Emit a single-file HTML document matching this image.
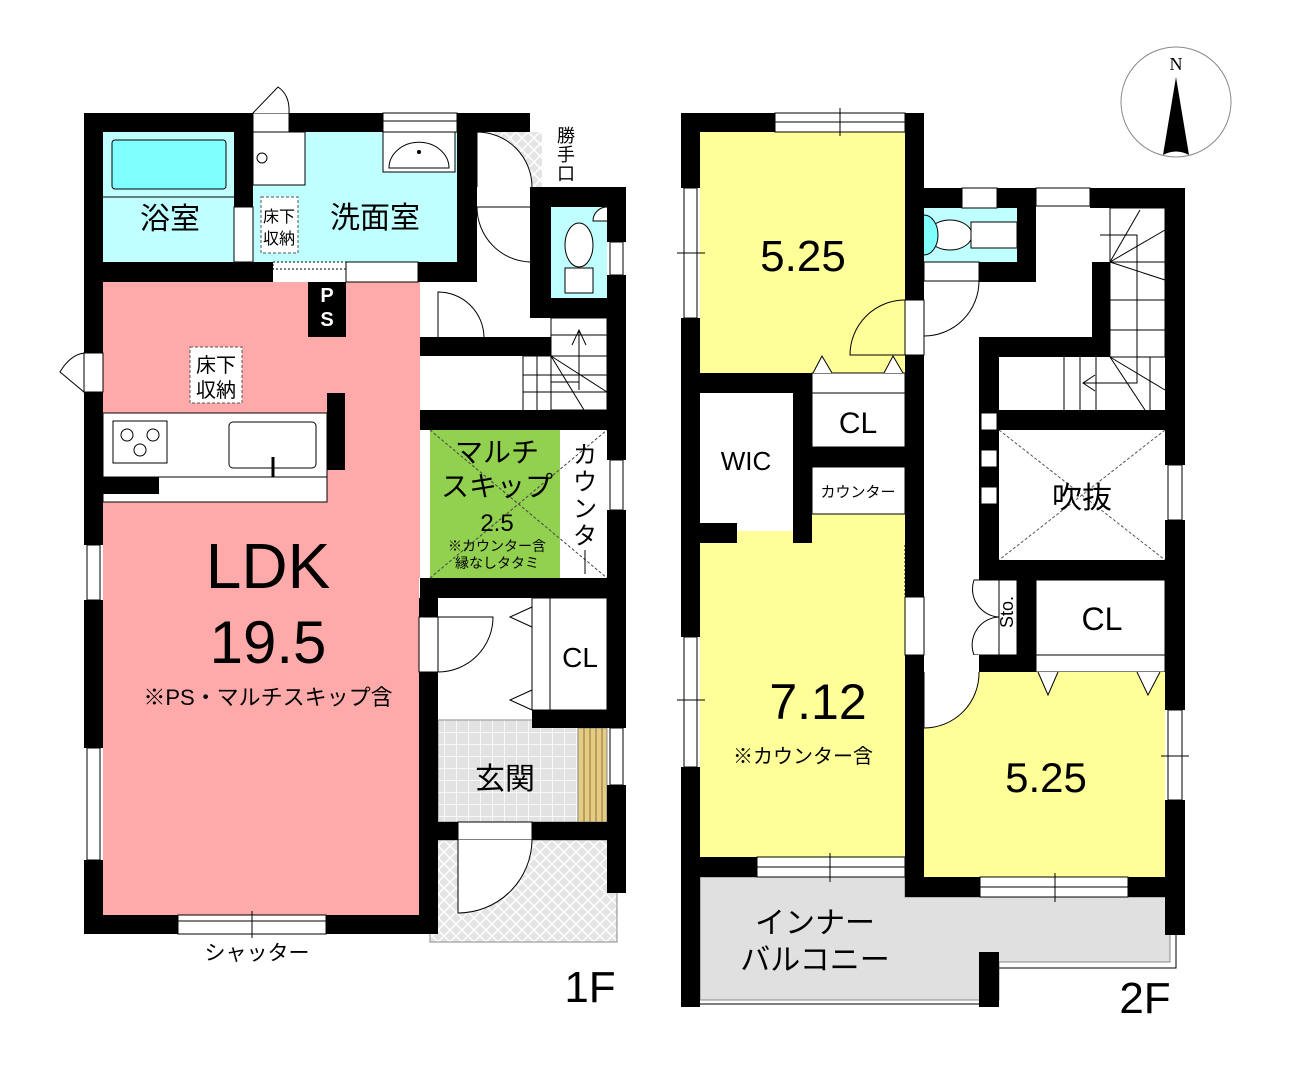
<!DOCTYPE html>
<html><head><meta charset="utf-8"><style>
html,body{margin:0;padding:0;background:#fff}
svg{display:block}
text{font-family:"Liberation Sans","Noto Sans CJK JP",sans-serif;fill:#000}
</style></head><body>
<svg width="1291" height="1065" viewBox="0 0 1291 1065" xmlns="http://www.w3.org/2000/svg">
<defs>
<pattern id="hatch" width="12" height="12" patternUnits="userSpaceOnUse">
<rect width="12" height="12" fill="#e4e4e4"/>
<path d="M0 0L12 12M12 0L0 12" stroke="#fff" stroke-width="1.5"/>
</pattern>
<pattern id="tile" width="12" height="12" patternUnits="userSpaceOnUse">
<rect width="12" height="12" fill="#e2e2e2"/>
<path d="M0 0H12M0 0V12" stroke="#fff" stroke-width="1.5"/>
</pattern>
</defs>

<!-- ===== 1F ===== -->
<rect x="103" y="132" width="131" height="130" fill="#c0ffff"/>
<rect x="112" y="140" width="114" height="49" rx="3" fill="#80ffff" stroke="#000"/>
<line x1="103" y1="197" x2="234" y2="197" stroke="#000"/>
<rect x="253" y="132" width="204" height="130" fill="#c0ffff"/>
<rect x="253" y="132" width="52" height="53" fill="#fff" stroke="#000"/>
<circle cx="262" cy="158" r="5" fill="#fff" stroke="#000"/>
<rect x="383" y="132" width="72" height="40" fill="#fff" stroke="#000"/>
<path d="M389 168 a28 24 0 0 1 60 0 z" fill="#fff" stroke="#000"/>
<circle cx="419" cy="152" r="2"/>
<rect x="261" y="197" width="37" height="56" fill="#fff" stroke="#555" stroke-dasharray="3,2"/>
<rect x="234" y="207" width="19" height="55" fill="#fff" stroke="#000"/>
<rect x="103" y="282" width="317" height="296" fill="#ffaaaa"/>
<rect x="103" y="578" width="316" height="337" fill="#ffaaaa"/>
<rect x="190" y="347" width="52" height="56" fill="#fff" stroke="#555" stroke-dasharray="3,2"/>
<rect x="103" y="413" width="224" height="64" fill="#fff" stroke="#000"/>
<rect x="113" y="421" width="54" height="42" fill="#fff" stroke="#000"/>
<circle cx="127" cy="435" r="6" fill="#fff" stroke="#000"/><circle cx="153" cy="435" r="6" fill="#fff" stroke="#000"/><circle cx="140" cy="450" r="6" fill="#fff" stroke="#000"/>
<rect x="229" y="422" width="87" height="46" rx="4" fill="#fff" stroke="#000"/>
<line x1="273" y1="457" x2="273" y2="477" stroke="#000" stroke-width="3"/>
<rect x="103" y="477" width="224" height="25" fill="#fff" stroke="#000"/>
<rect x="103" y="477" width="56" height="17" fill="#000"/>
<rect x="327" y="393" width="18" height="77" fill="#000"/>
<rect x="420" y="282" width="111" height="55" fill="#fff"/>
<path d="M438 337 V292 A46 46 0 0 1 484 337" fill="none" stroke="#000"/>
<rect x="477" y="132" width="53" height="150" fill="#fff"/>
<rect x="477" y="132" width="65" height="55" fill="url(#hatch)"/>
<path d="M477 187 V132 A55 55 0 0 1 532 187" fill="#fff" stroke="#000"/>
<path d="M477 207 A55 55 0 0 0 530 262" fill="none" stroke="#000"/>
<line x1="477" y1="207" x2="530" y2="207" stroke="#000"/>
<rect x="551" y="207" width="56" height="91" fill="#c0ffff"/>
<ellipse cx="579" cy="245" rx="14" ry="22" fill="#fff" stroke="#000"/>
<rect x="565" y="268" width="28" height="25" fill="#fff" stroke="#000"/>
<path d="M607 207 A14 14 0 0 0 593 221 H607" fill="#fff" stroke="#000"/>
<rect x="420" y="356" width="187" height="54" fill="#fff"/>
<rect x="551" y="318" width="56" height="92" fill="#fff" stroke="#000"/>
<g stroke="#000" fill="none">
<line x1="523" y1="356" x2="607" y2="356"/><line x1="523" y1="375" x2="607" y2="375"/><line x1="523" y1="392" x2="607" y2="392"/>
<line x1="523" y1="356" x2="523" y2="410"/><line x1="537" y1="356" x2="537" y2="410"/><line x1="551" y1="345" x2="551" y2="410"/>
<line x1="551" y1="335" x2="607" y2="335"/>
<line x1="551" y1="356" x2="584" y2="410"/><line x1="551" y1="356" x2="607" y2="392"/>
<line x1="579" y1="390" x2="579" y2="330"/><path d="M572 345 L579 330 L586 345"/>
<line x1="551" y1="382" x2="579" y2="382"/>
</g>
<rect x="430" y="430" width="130" height="148" fill="#92d050"/>
<rect x="560" y="430" width="47" height="148" fill="#fff"/>
<line x1="430" y1="578" x2="607" y2="430" stroke="#444" stroke-dasharray="3,2"/>
<line x1="430" y1="430" x2="607" y2="578" stroke="#444" stroke-dasharray="3,2"/>
<rect x="438" y="598" width="94" height="122" fill="#fff"/>
<rect x="550" y="598" width="57" height="112" fill="#fff" stroke="#000"/>
<rect x="532" y="598" width="18" height="112" fill="#fff" stroke="#000"/>
<path d="M532 607 L510 617 L532 627 M532 690 L510 700 L532 710" fill="none" stroke="#000"/>
<rect x="419" y="617" width="19" height="55" fill="#fff" stroke="#000"/>
<path d="M438 672 A55 55 0 0 0 493 617 H438" fill="none" stroke="#000"/>
<rect x="438" y="720" width="140" height="102" fill="url(#tile)" stroke="#888"/>
<rect x="578" y="728" width="29" height="94" fill="#e6cc80" stroke="#888"/>
<g stroke="#8a7040"><line x1="584" y1="728" x2="584" y2="822"/><line x1="590" y1="728" x2="590" y2="822"/><line x1="596" y1="728" x2="596" y2="822"/><line x1="602" y1="728" x2="602" y2="822"/></g>
<rect x="430" y="840" width="187" height="102" fill="url(#hatch)" stroke="#888"/>
<rect x="458" y="822" width="74" height="18" fill="#fff" stroke="#000"/>
<path d="M458 840 V913 A74 74 0 0 0 532 840" fill="#fff" stroke="#000"/>
<g fill="#000">
<rect x="84" y="113" width="169" height="19"/>
<rect x="289" y="113" width="94" height="19"/>
<rect x="457" y="113" width="73" height="19"/>
<rect x="84" y="113" width="19" height="240"/>
<rect x="84" y="392" width="19" height="153"/>
<rect x="84" y="600" width="19" height="148"/>
<rect x="84" y="860" width="19" height="74"/>
<rect x="234" y="113" width="19" height="94"/>
<rect x="84" y="262" width="189" height="20"/>
<rect x="418" y="262" width="59" height="20"/>
<rect x="308" y="282" width="38" height="55"/>
<rect x="457" y="113" width="20" height="169"/>
<rect x="530" y="187" width="96" height="20"/>
<rect x="530" y="187" width="21" height="131"/>
<rect x="530" y="298" width="96" height="20"/>
<rect x="607" y="187" width="19" height="55"/>
<rect x="607" y="275" width="19" height="185"/>
<rect x="607" y="510" width="19" height="218"/>
<rect x="607" y="785" width="19" height="108"/>
<rect x="420" y="337" width="131" height="19"/>
<rect x="420" y="410" width="206" height="20"/>
<rect x="420" y="578" width="206" height="20"/>
<rect x="419" y="598" width="19" height="19"/>
<rect x="419" y="672" width="19" height="262"/>
<rect x="532" y="710" width="94" height="18"/>
<rect x="532" y="822" width="94" height="18"/>
<rect x="438" y="822" width="20" height="18"/>
<rect x="84" y="915" width="94" height="19"/>
<rect x="326" y="915" width="112" height="19"/>
</g>
<g fill="#fff" stroke="#000">
<rect x="383" y="113" width="74" height="19"/>
<rect x="178" y="915" width="148" height="19"/>
<rect x="87" y="545" width="13" height="55"/>
<rect x="87" y="748" width="13" height="112"/>
<rect x="610" y="242" width="13" height="33"/>
<rect x="610" y="460" width="13" height="50"/>
<rect x="610" y="728" width="13" height="57"/>
<rect x="253" y="113" width="36" height="19"/>
<rect x="273" y="262" width="73" height="7" stroke-dasharray="2,2"/>
<rect x="346" y="262" width="72" height="20"/>
</g>
<line x1="383" y1="121" x2="457" y2="121" stroke="#000"/>
<line x1="178" y1="921" x2="326" y2="921" stroke="#000"/><line x1="252" y1="911" x2="252" y2="938" stroke="#000"/>
<path d="M253 113 L278 87 Q290 95 289 113" fill="#fff" stroke="#000"/>
<path d="M84 353 L84 392 L60 372 Q70 355 84 353" fill="#fff" stroke="#000"/>
<rect x="84" y="353" width="19" height="39" fill="#fff" stroke="#000"/>

<text x="170" y="229" font-size="30" text-anchor="middle">浴室</text>
<text x="375" y="228" font-size="30" text-anchor="middle">洗面室</text>
<text x="279" y="222" font-size="16" text-anchor="middle">床下</text>
<text x="279" y="244" font-size="16" text-anchor="middle">収納</text>
<text x="216" y="372" font-size="20" text-anchor="middle">床下</text>
<text x="216" y="397" font-size="20" text-anchor="middle">収納</text>
<text x="327" y="302" font-size="20" font-weight="bold" text-anchor="middle" style="fill:#fff">P</text>
<text x="327" y="326" font-size="20" font-weight="bold" text-anchor="middle" style="fill:#fff">S</text>
<text x="268" y="588" font-size="64" text-anchor="middle">LDK</text>
<text x="268" y="663" font-size="60" text-anchor="middle">19.5</text>
<text x="268" y="705" font-size="22" text-anchor="middle">※PS・マルチスキップ含</text>
<text x="497" y="462" font-size="28" text-anchor="middle">マルチ</text>
<text x="497" y="496" font-size="28" text-anchor="middle">スキップ</text>
<text x="497" y="531" font-size="24" text-anchor="middle">2.5</text>
<text x="497" y="551" font-size="14" text-anchor="middle">※カウンター含</text>
<text x="497" y="568" font-size="14" text-anchor="middle">縁なしタタミ</text>
<g font-size="24" text-anchor="middle">
<text x="585" y="463">カ</text><text x="585" y="490">ウ</text><text x="585" y="517">ン</text><text x="585" y="544">タ</text><text x="585" y="571">｜</text>
</g>
<text x="580" y="667" font-size="28" text-anchor="middle">CL</text>
<text x="505" y="789" font-size="30" text-anchor="middle">玄関</text>
<text x="257" y="960" font-size="21" text-anchor="middle">シャッター</text>
<text x="590" y="1002" font-size="44" text-anchor="middle">1F</text>
<g font-size="18" text-anchor="middle">
<text x="566" y="142">勝</text><text x="566" y="161">手</text><text x="566" y="180">口</text>
</g>

<!-- ===== 2F ===== -->
<rect x="700" y="132" width="205" height="241" fill="#ffff99"/>
<rect x="812" y="373" width="93" height="74" fill="#fff" stroke="#000"/>
<line x1="812" y1="393" x2="905" y2="393" stroke="#000"/>
<path d="M813 373 L822 356 L832 373 M884 373 L893 356 L903 373" fill="#fff" stroke="#000"/>
<rect x="700" y="514" width="205" height="343" fill="#ffff99"/>
<rect x="700" y="393" width="93" height="138" fill="#fff"/>
<rect x="812" y="467" width="93" height="47" fill="#fff" stroke="#000"/>
<rect x="905" y="300" width="19" height="55" fill="#fff" stroke="#000"/>
<path d="M905 300 A55 55 0 0 0 850 355 H905" fill="none" stroke="#000"/>
<rect x="924" y="208" width="93" height="54" fill="#c0ffff"/>
<ellipse cx="950" cy="235" rx="22" ry="15" fill="#fff" stroke="#000"/>
<rect x="971" y="222" width="46" height="26" fill="#fff" stroke="#000"/>
<path d="M924 215 A14 20 0 0 1 924 255" fill="#80ffff" stroke="#000"/>
<rect x="924" y="262" width="55" height="19" fill="#fff" stroke="#000"/>
<path d="M979 281 A55 55 0 0 1 924 336" fill="none" stroke="#000"/>
<rect x="1110" y="208" width="55" height="202" fill="#fff" stroke="#000"/>
<rect x="999" y="357" width="166" height="53" fill="#fff"/>
<g stroke="#000" fill="none">
<line x1="1110" y1="262" x2="1165" y2="262"/><line x1="1110" y1="300" x2="1165" y2="300"/><line x1="1110" y1="330" x2="1165" y2="330"/>
<line x1="1110" y1="357" x2="1165" y2="357"/>
<line x1="1064" y1="357" x2="1064" y2="410"/><line x1="1080" y1="357" x2="1080" y2="410"/><line x1="1096" y1="357" x2="1096" y2="410"/><line x1="1150" y1="357" x2="1150" y2="410"/>
<line x1="1110" y1="262" x2="1165" y2="230"/><line x1="1110" y1="262" x2="1165" y2="280"/><line x1="1110" y1="262" x2="1140" y2="210"/>
<line x1="1110" y1="357" x2="1165" y2="390"/><line x1="1110" y1="357" x2="1145" y2="410"/>
<path d="M1100 235 H1137 V383 H1083 M1095 375 L1083 383 L1095 391"/>
</g>
<rect x="999" y="430" width="166" height="130" fill="#fff"/>
<line x1="999" y1="430" x2="1165" y2="560" stroke="#555" stroke-dasharray="3,2"/>
<line x1="1165" y1="430" x2="999" y2="560" stroke="#555" stroke-dasharray="3,2"/>
<rect x="999" y="580" width="18" height="75" fill="#fff" stroke="#000"/>
<path d="M999 580 H974 A28 28 0 0 0 999 617 A28 28 0 0 0 974 655 H999" fill="none" stroke="#000"/>
<rect x="1036" y="580" width="129" height="75" fill="#fff" stroke="#000"/>
<rect x="1036" y="655" width="129" height="17" fill="#fff" stroke="#000"/>
<rect x="924" y="672" width="241" height="205" fill="#ffff99"/>
<path d="M1038 672 L1048 695 L1058 672 M1137 672 L1148 695 L1160 672" fill="#fff" stroke="#000"/>
<rect x="924" y="655" width="55" height="17" fill="#fff"/>
<path d="M924 672 V728 A55 55 0 0 0 979 672" fill="#fff" stroke="#000"/>
<path d="M700 877 H905 V897 H1170 V962 H999 V1000 H700 Z" fill="#e0e0e0" stroke="#888"/>
<path d="M1170 897 H1176 V968 H999" fill="none" stroke="#000"/>
<line x1="700" y1="1004" x2="979" y2="1004" stroke="#000"/>
<g fill="#000">
<rect x="681" y="113" width="94" height="19"/>
<rect x="905" y="113" width="19" height="187"/>
<rect x="681" y="113" width="19" height="75"/>
<rect x="681" y="318" width="19" height="319"/>
<rect x="681" y="767" width="19" height="240"/>
<rect x="681" y="373" width="131" height="20"/>
<rect x="793" y="373" width="19" height="170"/>
<rect x="812" y="447" width="93" height="20"/>
<rect x="700" y="523" width="37" height="20"/>
<rect x="905" y="355" width="19" height="242"/>
<rect x="905" y="655" width="19" height="242"/>
<rect x="924" y="188" width="38" height="20"/>
<rect x="997" y="188" width="39" height="20"/>
<rect x="1017" y="188" width="19" height="94"/>
<rect x="979" y="262" width="57" height="20"/>
<rect x="1090" y="188" width="95" height="20"/>
<rect x="1165" y="188" width="20" height="277"/>
<rect x="1165" y="520" width="20" height="190"/>
<rect x="1165" y="800" width="20" height="135"/>
<rect x="1092" y="262" width="18" height="95"/>
<rect x="979" y="337" width="131" height="20"/>
<rect x="979" y="337" width="20" height="243"/>
<rect x="999" y="410" width="186" height="20"/>
<rect x="979" y="560" width="206" height="20"/>
<rect x="1017" y="580" width="19" height="92"/>
<rect x="979" y="655" width="57" height="17"/>
<rect x="681" y="857" width="76" height="20"/>
<rect x="905" y="877" width="75" height="20"/>
<rect x="1128" y="877" width="57" height="20"/>
<rect x="979" y="952" width="20" height="55"/>
</g>
<g fill="#fff" stroke="#000">
<rect x="981" y="413" width="16" height="17"/><rect x="981" y="450" width="16" height="17"/><rect x="981" y="487" width="16" height="17"/>
<rect x="775" y="113" width="130" height="19"/>
<rect x="684" y="188" width="13" height="130"/>
<rect x="684" y="637" width="13" height="130"/>
<rect x="962" y="188" width="35" height="20"/>
<rect x="1036" y="188" width="54" height="18"/>
<rect x="1168" y="465" width="14" height="55"/>
<rect x="1168" y="710" width="14" height="90"/>
<rect x="757" y="857" width="148" height="20"/>
<rect x="980" y="877" width="148" height="20"/>
<rect x="905" y="597" width="19" height="58"/>
</g>
<line x1="905" y1="545" x2="905" y2="597" stroke="#000" stroke-dasharray="2,2"/>
<line x1="775" y1="122" x2="905" y2="122" stroke="#000"/><line x1="840" y1="108" x2="840" y2="136" stroke="#000"/>
<line x1="757" y1="867" x2="905" y2="867" stroke="#000"/><line x1="830" y1="853" x2="830" y2="882" stroke="#000"/>
<line x1="980" y1="887" x2="1128" y2="887" stroke="#000"/><line x1="1055" y1="873" x2="1055" y2="902" stroke="#000"/>
<line x1="677" y1="253" x2="705" y2="253" stroke="#000"/><line x1="677" y1="700" x2="705" y2="700" stroke="#000"/>
<line x1="1161" y1="756" x2="1189" y2="756" stroke="#000"/>

<circle cx="1176" cy="102" r="55" fill="#fff" stroke="#888"/>
<path d="M1176 77 L1163 155 Q1176 148 1189 155 Z" fill="#000"/>
<text x="1176" y="70" font-size="18" text-anchor="middle" style="font-family:'Liberation Serif',serif">N</text>

<text x="803" y="271" font-size="44" text-anchor="middle">5.25</text>
<text x="858" y="433" font-size="30" text-anchor="middle">CL</text>
<text x="746" y="470" font-size="26" text-anchor="middle">WIC</text>
<text x="858" y="497" font-size="15" text-anchor="middle">カウンター</text>
<text x="818" y="719" font-size="50" text-anchor="middle">7.12</text>
<text x="803" y="763" font-size="20" text-anchor="middle">※カウンター含</text>
<text x="1082" y="508" font-size="30" text-anchor="middle">吹抜</text>
<text x="1008" y="612" font-size="18" text-anchor="middle" transform="rotate(-90 1008 612)" dominant-baseline="middle">Sto.</text>
<text x="1102" y="630" font-size="32" text-anchor="middle">CL</text>
<text x="1046" y="792" font-size="42" text-anchor="middle">5.25</text>
<text x="815" y="933" font-size="30" text-anchor="middle">インナー</text>
<text x="815" y="970" font-size="30" text-anchor="middle">バルコニー</text>
<text x="1145" y="1013" font-size="44" text-anchor="middle">2F</text>
</svg>
</body></html>
